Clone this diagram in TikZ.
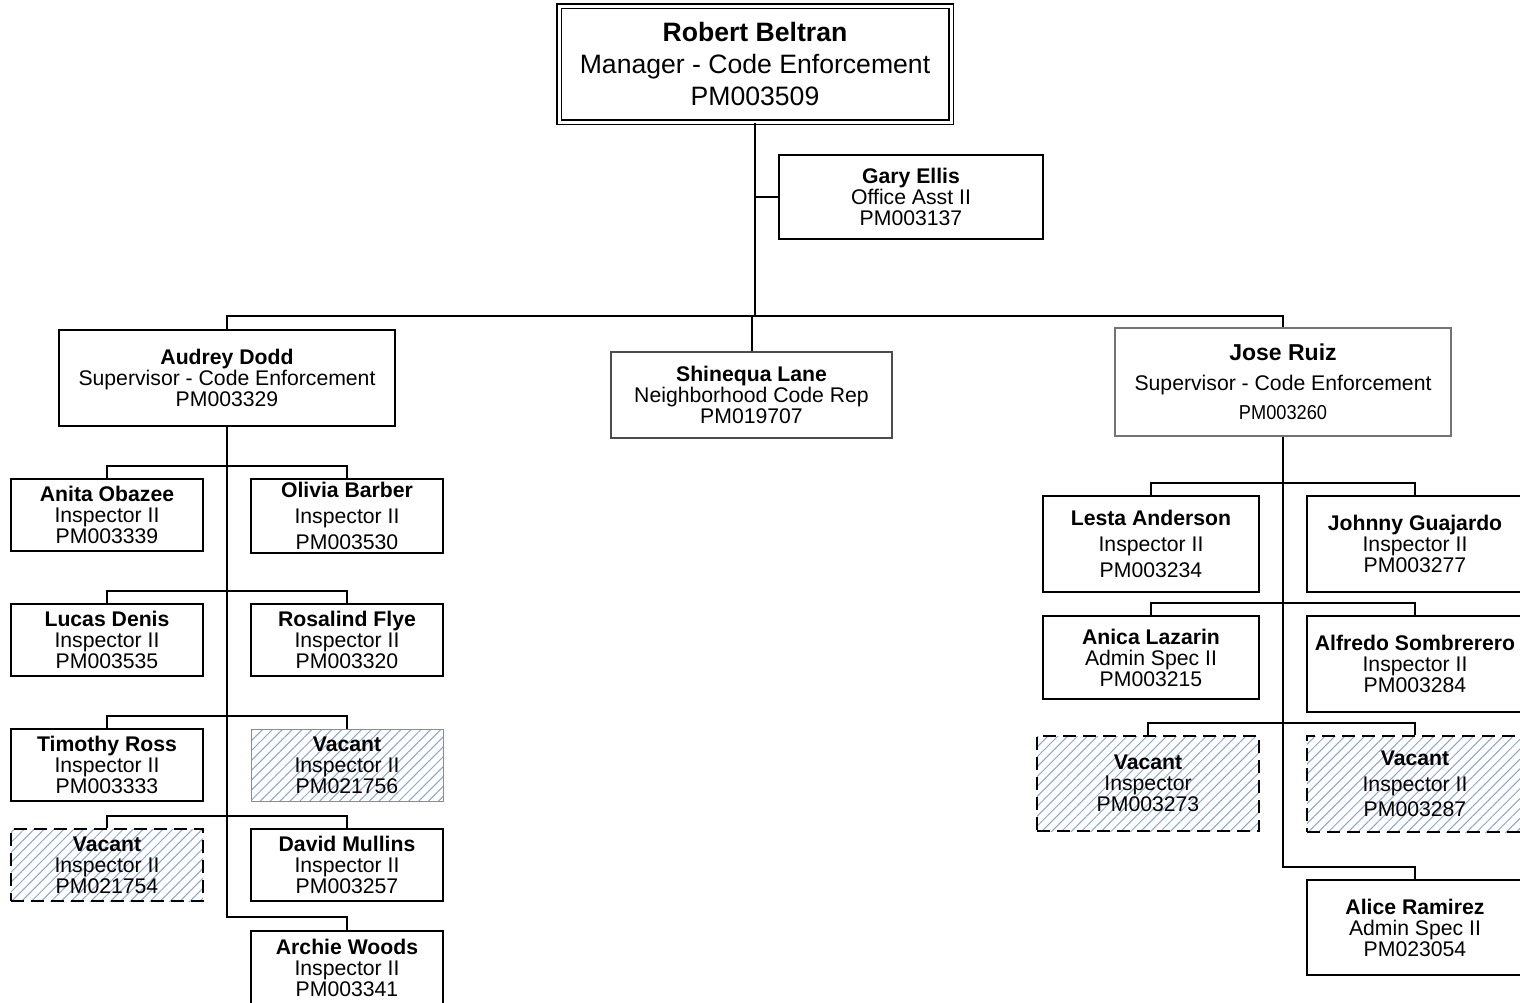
\documentclass[tikz,border=0pt]{standalone}
\usepackage{fontspec}
\setmainfont{Liberation Sans}
\usepackage{graphicx}
\usepackage{tikz}
\usetikzlibrary{calc,patterns.meta}
\definecolor{hatch}{RGB}{140,165,205}
\newcommand*{\OrgBox}[9][]{% #2 = name, #3/#4 = top left, #5/#6 = bottom right
\node [person, minimum width={(#5-#3)*0.5pt}, minimum height={(#6-#4)*0.5pt}, #1]
(#2) at ({(#3+#5)/2},{(#4+#6)/2}) {\textbf{#7}\\#8\\#9};%
}
\tikzset{
person/.style={draw, line width=1pt, inner sep=1pt, align=center,
font=\fontsize{10.6}{10.5}\selectfont},
loose/.style={font=\fontsize{10.6}{12.8}\selectfont},
vacant/.style={pattern={Lines[angle=45,distance=3.5pt,line width=0.5pt]},
pattern color=hatch},
vacantdash/.style={vacant, dash pattern=on 6.5pt off 3.5pt},
link/.style={line width=1pt},
}

\begin{document}
\begin{tikzpicture}[x=0.5pt,y=-0.5pt]

            \useasboundingbox (0,0) rectangle (1520,1002);
            \clip (0,0) rectangle (1520,1002);
            \OrgBox[double, line width=0.75pt, double distance=1.5pt,
            font=\fontsize{13.3}{16}\selectfont]{robert}{559}{6}{951}{122}{Robert Beltran}{Manager - Code Enforcement}{PM003509}
            \OrgBox{gary}{779}{155}{1043}{239}{Gary Ellis}{Office Asst II}{PM003137}
            \OrgBox{audrey}{59}{330}{395}{426}{Audrey Dodd}{Supervisor - Code Enforcement}{PM003329}
            \OrgBox[draw=black!70, line width=0.75pt]{shinequa}{611}{352}{892}{438}{Shinequa Lane}{Neighborhood Code Rep}{PM019707}
            \OrgBox[draw=black!55, font=\fontsize{10.6}{14.7}\selectfont]{jose}{1115}{328}{1451}{436}{\fontsize{11.5}{14.7}\selectfont Jose Ruiz}{Supervisor - Code Enforcement}{\scalebox{0.86}[0.95]{PM003260}}

            % Audrey Dodd team
            \OrgBox{anita}{11}{479}{203}{551}{Anita Obazee}{Inspector II}{PM003339}
            \OrgBox[loose]{olivia}{251}{479}{443}{553}{Olivia Barber}{Inspector II}{PM003530}
            \OrgBox{lucas}{11}{604}{203}{676}{Lucas Denis}{Inspector II}{PM003535}
            \OrgBox{rosalind}{251}{604}{443}{676}{Rosalind Flye}{Inspector II}{PM003320}
            \OrgBox{timothy}{11}{729}{203}{801}{Timothy Ross}{Inspector II}{PM003333}
            \OrgBox[vacant, draw=black!45, line width=0.5pt]{vacantA}{251}{729}{443}{801}{Vacant}{Inspector II}{PM021756}
            \OrgBox[vacantdash]{vacantB}{11}{829}{203}{901}{Vacant}{Inspector II}{PM021754}
            \OrgBox{david}{251}{829}{443}{901}{David Mullins}{Inspector II}{PM003257}
            \OrgBox{archie}{251}{931}{443}{1004}{Archie Woods}{Inspector II}{PM003341}

            % Jose Ruiz team
            \OrgBox[loose]{lesta}{1043}{496}{1259}{592}{Lesta Anderson}{Inspector II}{PM003234}
            \OrgBox{johnny}{1307}{496}{1523}{592}{Johnny Guajardo}{Inspector II}{PM003277}
            \OrgBox{anica}{1043}{616}{1259}{699}{Anica Lazarin}{Admin Spec II}{PM003215}
            \OrgBox{alfredo}{1307}{616}{1523}{712}{Alfredo Sombrerero}{Inspector II}{PM003284}
            \OrgBox[vacantdash]{vacantC}{1037}{736}{1259}{831}{Vacant}{Inspector}{PM003273}
            \OrgBox[vacantdash, loose]{vacantD}{1307}{736}{1523}{832}{Vacant}{Inspector II}{PM003287}
            \OrgBox{alice}{1307}{880}{1523}{975}{Alice Ramirez}{Admin Spec II}{PM023054}

            \coordinate (topbar) at (755,316);
            \draw [link] (robert.south) -- (topbar);
            \draw [link] (gary.west) -- (gary.west -| robert.south);
            \draw [link] (audrey.north) |- (topbar) -| (jose.north);
            \draw [link] (shinequa.north) -- (shinequa.north |- topbar);
            \draw [link] (audrey.south) |- ($(archie.north)+(0,-13)$) -- (archie.north);
            \draw [link] (jose.south) |- ($(alice.north)+(0,-12)$) -- (alice.north);
            \foreach \l/\r in {anita/olivia, lucas/rosalind, timothy/vacantA, vacantB/david,
            lesta/johnny, anica/alfredo, vacantC/vacantD}
            \draw [link] (\l.north) -- ++(0,-12) -| (\r.north);
        \end{tikzpicture}
\end{document}
